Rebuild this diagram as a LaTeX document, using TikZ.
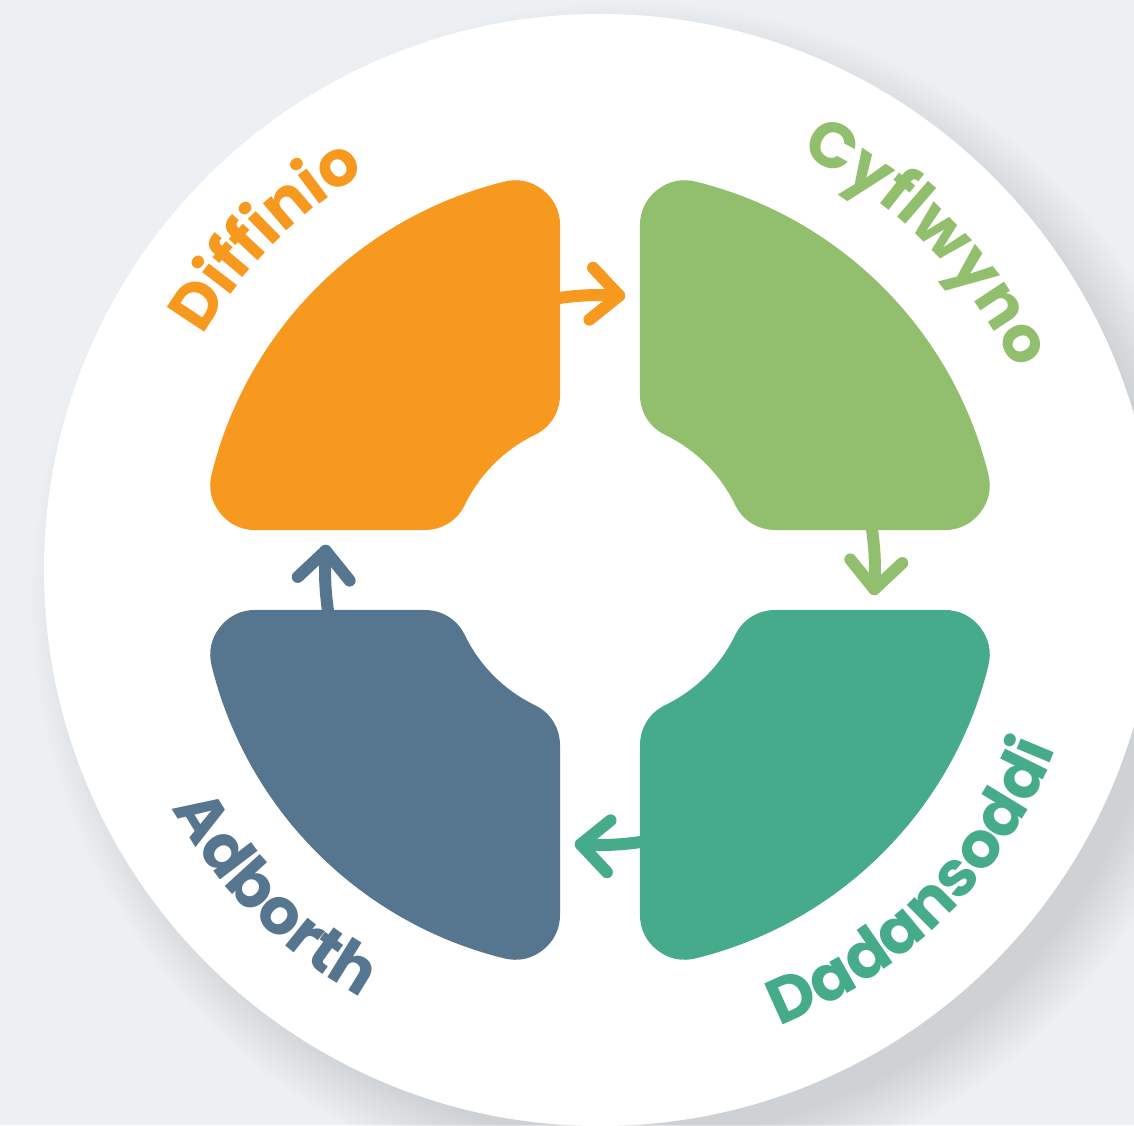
\documentclass[tikz,border=0pt]{standalone}
\usepackage{fontspec}
\setmainfont{Poppins}
\usetikzlibrary{decorations.text}
\definecolor{bgc}{HTML}{EDF0F3}
\definecolor{cOrange}{HTML}{F7981F}
\definecolor{cGreen}{HTML}{92BF6D}
\definecolor{cTeal}{HTML}{45AB8B}
\definecolor{cBlue}{HTML}{56758F}
\newcommand{\lblfont}{\fontsize{32}{32}\selectfont\bfseries}
\tikzset{
  petal/.style={fill=#1, draw=#1, line width=45pt, line join=round},
  flow/.style={draw=#1, line width=6pt, line cap=round, line join=round},
}
\begin{document}
\begin{tikzpicture}[x=0.5pt, y=0.5pt]
  \useasboundingbox (-600,-555) rectangle (534,570);
  \clip (-600,-555) rectangle (534,570);
  \fill[bgc] (-600,-555) rectangle (534,570);
  % soft shadow of the disc
  \foreach \i in {0,...,29}{
    \fill[black, fill opacity=0.0055] (30,-30) circle[radius=540+2*\i];
  }
  \fill[white] (0,0) circle[radius=556];
  % petals and arrows
  \foreach \a/\c in {0/cOrange, -90/cGreen, -180/cTeal, -270/cBlue}{
    \begin{scope}[rotate=\a]
      \draw[flow=\c] (100:275) arc[start angle=100, end angle=86, radius=275];
      \draw[flow=\c, shift={(86:275)}, rotate=-4] (-28,26) -- (0,0) -- (-28,-26);
      \path[petal=\c] (103.85:355) arc[start angle=103.85, end angle=166.15, radius=355]
        -- (154.16:195) arc[start angle=154.16, end angle=115.84, radius=195] -- cycle;
    \end{scope}
  }
  % labels
  \path[decorate, decoration={text along path, text align=center,
      text={|\lblfont\color{cOrange}|Diffinio}}]
    (180:461) arc[start angle=180, end angle=90, radius=461];
  \path[decorate, decoration={text along path, text align=center,
      text={|\lblfont\color{cGreen}|Cyflwyno}}]
    (90:461) arc[start angle=90, end angle=0, radius=461];
  \path[decorate, decoration={text along path, text align=center,
      text={|\lblfont\color{cTeal}|Dadansoddi}}]
    (270:490) arc[start angle=270, end angle=360, radius=490];
  \path[decorate, decoration={text along path, text align=center,
      text={|\lblfont\color{cBlue}|Adborth}}]
    (180:490) arc[start angle=180, end angle=270, radius=490];
\end{tikzpicture}
\end{document}
